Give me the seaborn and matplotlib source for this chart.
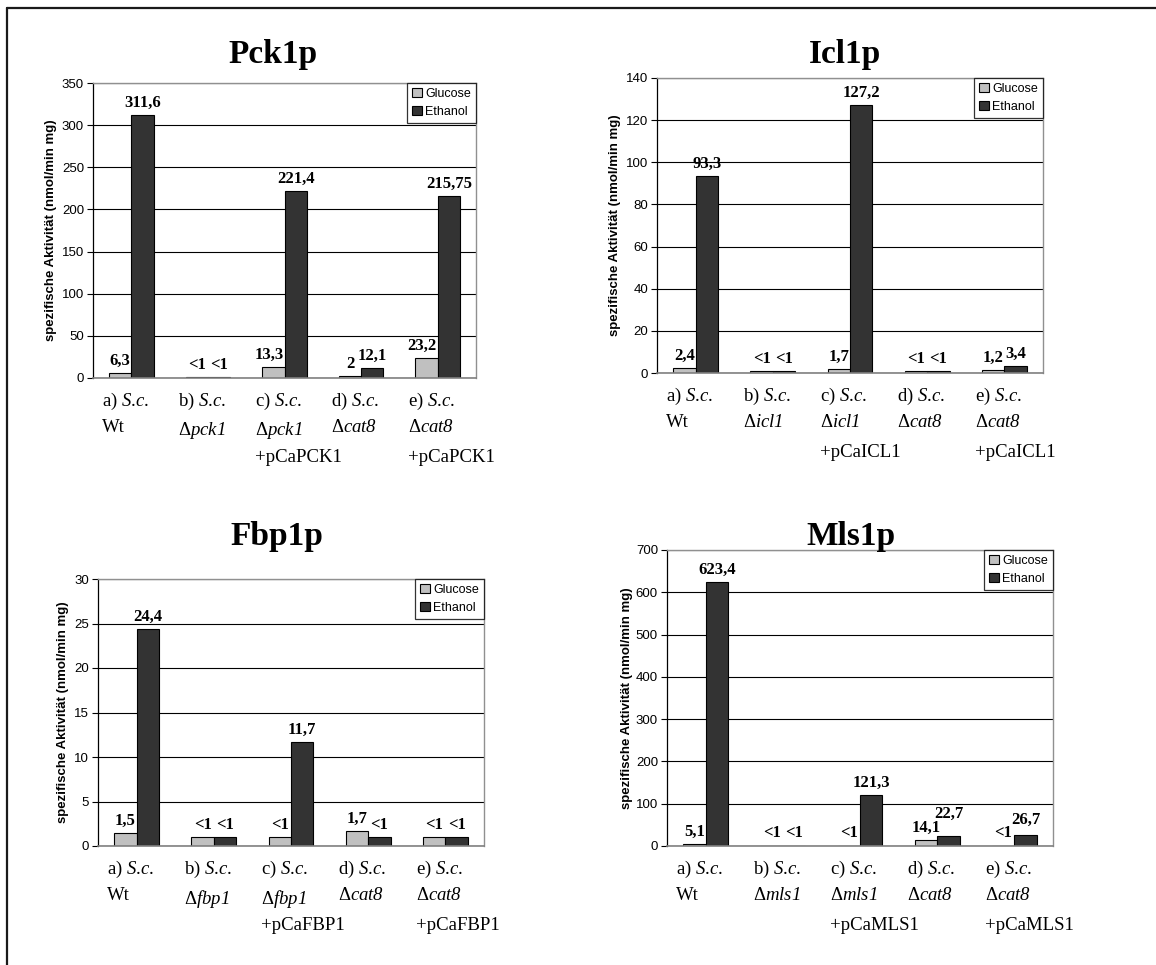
import matplotlib
matplotlib.use("Agg")
import matplotlib.pyplot as plt
import matplotlib.transforms as mtransforms
import seaborn as sns
import pandas as pd
from matplotlib.patches import Patch
from matplotlib.lines import Line2D

sns.set_theme(style="white")
plt.rcParams['font.family'] = ['Liberation Sans', 'DejaVu Sans']
plt.rcParams['mathtext.fontset'] = 'custom'
plt.rcParams['mathtext.rm'] = 'Liberation Serif:italic'
plt.rcParams['mathtext.it'] = 'Liberation Serif:italic'
for key in ["text.color", "axes.labelcolor", "xtick.color", "ytick.color"]:
    plt.rcParams[key] = "black"

# ---------------- data ----------------
media = ["Glucose", "Ethanol"]

pck_strains = ["a) $S$.$c$.\nWt",
               "b) $S$.$c$.\nΔ$pck1$",
               "c) $S$.$c$.\nΔ$pck1$\n+pCaPCK1",
               "d) $S$.$c$.\nΔ$cat8$",
               "e) $S$.$c$.\nΔ$cat8$\n+pCaPCK1"]
pck_glucose = [6.3, 1, 13.3, 2, 23.2]
pck_ethanol = [311.6, 1, 221.4, 12.1, 215.75]
pck_glucose_lbl = ["6,3", "<1", "13,3", "2", "23,2"]
pck_ethanol_lbl = ["311,6", "<1", "221,4", "12,1", "215,75"]

icl_strains = ["a) $S$.$c$.\nWt",
               "b) $S$.$c$.\nΔ$icl1$",
               "c) $S$.$c$.\nΔ$icl1$\n+pCaICL1",
               "d) $S$.$c$.\nΔ$cat8$",
               "e) $S$.$c$.\nΔ$cat8$\n+pCaICL1"]
icl_glucose = [2.4, 1, 1.7, 1, 1.2]
icl_ethanol = [93.3, 1, 127.2, 1, 3.4]
icl_glucose_lbl = ["2,4", "<1", "1,7", "<1", "1,2"]
icl_ethanol_lbl = ["93,3", "<1", "127,2", "<1", "3,4"]

fbp_strains = ["a) $S$.$c$.\nWt",
               "b) $S$.$c$.\nΔ$fbp1$",
               "c) $S$.$c$.\nΔ$fbp1$\n+pCaFBP1",
               "d) $S$.$c$.\nΔ$cat8$",
               "e) $S$.$c$.\nΔ$cat8$\n+pCaFBP1"]
fbp_glucose = [1.5, 1, 1, 1.7, 1]
fbp_ethanol = [24.4, 1, 11.7, 1, 1]
fbp_glucose_lbl = ["1,5", "<1", "<1", "1,7", "<1"]
fbp_ethanol_lbl = ["24,4", "<1", "11,7", "<1", "<1"]

mls_strains = ["a) $S$.$c$.\nWt",
               "b) $S$.$c$.\nΔ$mls1$",
               "c) $S$.$c$.\nΔ$mls1$\n+pCaMLS1",
               "d) $S$.$c$.\nΔ$cat8$",
               "e) $S$.$c$.\nΔ$cat8$\n+pCaMLS1"]
mls_glucose = [5.1, 1, 1, 14.1, 1]
mls_ethanol = [623.4, 1, 121.3, 22.7, 26.7]
mls_glucose_lbl = ["5,1", "<1", "<1", "14,1", "<1"]
mls_ethanol_lbl = ["623,4", "<1", "121,3", "22,7", "26,7"]

titles = ["Pck1p", "Icl1p", "Fbp1p", "Mls1p"]
ylims = [(0, 350, 50), (0, 140, 20), (0, 30, 5), (0, 700, 100)]
ylabel = "spezifische Aktivität (nmol/min mg)"

# ---------------- layout ----------------
W, H = 1156, 965
DPI = 100
fig = plt.figure(figsize=(W / DPI, H / DPI), dpi=DPI)
fig.patch.set_facecolor("white")

# pixel boxes: left, right, top, bottom
boxes = [(93, 476, 83, 378), (657, 1043, 78, 373), (98, 484, 579, 846), (667, 1053, 550, 846)]
title_pos = [(273, 55), (845, 55), (277, 537), (851, 537)]
ylabel_off = [36, 36, 29, 34]

panels = [
    (pck_strains, pck_glucose, pck_ethanol, pck_glucose_lbl, pck_ethanol_lbl),
    (icl_strains, icl_glucose, icl_ethanol, icl_glucose_lbl, icl_ethanol_lbl),
    (fbp_strains, fbp_glucose, fbp_ethanol, fbp_glucose_lbl, fbp_ethanol_lbl),
    (mls_strains, mls_glucose, mls_ethanol, mls_glucose_lbl, mls_ethanol_lbl),
]

colors = ["#c0c0c0", "#333333"]
LS = 1.55
xlab_font = dict(fontfamily="Liberation Serif", fontsize=13.5)
MAJOR_PAD = 9  # points

renderer = fig.canvas.get_renderer()
# line advance of the category labels (pixels), measured on a real two-line label
_l1 = pck_strains[2].split("\n")
_t1 = fig.text(0, 0, _l1[0], linespacing=LS, **xlab_font)
_t2 = fig.text(0, 0, "\n".join(_l1[:2]), linespacing=LS, **xlab_font)
line_adv = _t2.get_window_extent(renderer).height - _t1.get_window_extent(renderer).height
_t1.remove(); _t2.remove()
MINOR_PAD = MAJOR_PAD + 2 * line_adv * 72 / DPI

all_anns = []

for i, (strains, glu, eth, glbl, elbl) in enumerate(panels):
    l, r, t, b = boxes[i]
    ax = fig.add_axes([l / W, 1 - b / H, (r - l) / W, (b - t) / H])
    df = pd.DataFrame({
        "strain": strains * 2,
        "medium": [media[0]] * len(strains) + [media[1]] * len(strains),
        "value": glu + eth,
    })
    sns.barplot(data=df, x="strain", y="value", hue="medium", order=strains,
                hue_order=media, palette=colors, width=0.58, edgecolor="black",
                linewidth=0.8, saturation=1, ax=ax, legend=False, errorbar=None)
    ax.set_axisbelow(True)
    y0, y1, step = ylims[i]
    ax.set_ylim(y0, y1)
    ax.set_yticks(list(range(y0, y1 + 1, step)))
    ax.set_xlim(-0.5, len(strains) - 0.5)
    ax.yaxis.grid(True, color="black", linewidth=0.8)
    ax.xaxis.grid(False)
    ax.set_facecolor("white")
    for side in ["top", "right"]:
        ax.spines[side].set_color("#909090")
        ax.spines[side].set_linewidth(1.0)
    ax.spines["left"].set_color("black")
    ax.spines["left"].set_linewidth(0.9)
    ax.spines["bottom"].set_color("#808080")
    ax.spines["bottom"].set_linewidth(1.2)
    ax.tick_params(axis="y", direction="out", length=4, width=0.8, color="black",
                   pad=2.5, labelsize=9.5, left=True)
    for lab in ax.get_yticklabels():
        lab.set_fontfamily("Liberation Sans")

    # category labels: first two lines as major tick labels, third line as minor tick labels
    lines = [s.split("\n") for s in strains]
    major_txt = ["\n".join(ln[:2]) for ln in lines]
    minor_txt = [ln[2] if len(ln) > 2 else "" for ln in lines]
    ax.xaxis.remove_overlapping_locs = False
    ax.set_xticks(range(len(strains)))
    ax.set_xticklabels(major_txt, ha="left", va="top", multialignment="left",
                       linespacing=LS, **xlab_font)
    ax.set_xticks(range(len(strains)), minor=True)
    ax.set_xticklabels(minor_txt, minor=True, ha="left", va="top", **xlab_font)
    ax.tick_params(axis="x", which="major", length=0, pad=MAJOR_PAD)
    ax.tick_params(axis="x", which="minor", length=0, pad=MINOR_PAD)
    # centre the first line of each label on its category, other lines left-aligned to it
    offs = []
    for ln in lines:
        tmp = fig.text(0, 0, ln[0], **xlab_font)
        w = tmp.get_window_extent(renderer).width
        tmp.remove()
        offs.append(mtransforms.ScaledTranslation(-(w / 2 + 6) / DPI, 0, fig.dpi_scale_trans))
    for lab, off in zip(ax.get_xticklabels(), offs):
        lab.set_transform(lab.get_transform() + off)
    for lab, off in zip(ax.get_xticklabels(minor=True), offs):
        lab.set_transform(lab.get_transform() + off)

    ax.set_xlabel("")
    ax.set_ylabel(ylabel, fontfamily="Liberation Sans", fontweight="bold", fontsize=9.5)
    ax.yaxis.set_label_coords(-ylabel_off[i] / (r - l), 0.5)

    anns = []
    for cont, lbls in zip(ax.containers, [glbl, elbl]):
        anns.append(ax.bar_label(cont, labels=lbls, padding=3, fontfamily="Liberation Serif",
                                 fontweight="bold", fontsize=12, color="black"))
    all_anns.append((ax, anns))

    handles = [Patch(facecolor=colors[k], edgecolor="black", linewidth=0.8, label=media[k])
               for k in range(2)]
    leg = ax.legend(handles=handles, loc="upper right", borderaxespad=0, frameon=True,
                    fancybox=False, edgecolor="black", handlelength=0.75,
                    handleheight=0.75, handletextpad=0.3, labelspacing=0.45,
                    borderpad=0.4, prop={"family": "Liberation Sans", "size": 9})
    leg.get_frame().set_linewidth(0.9)

    tx, ty = title_pos[i]
    fig.text(tx / W, 1 - ty / H, titles[i], ha="center", va="center",
             fontfamily="Liberation Serif", fontweight="bold", fontsize=24, color="black")

# keep value labels clear of the neighbouring bar and of each other
px2pt = 72 / DPI
fig.canvas.draw()
for ax, (ganns, eanns) in all_anns:
    ebars = ax.containers[1].patches
    for k in range(len(ganns)):
        ga = ganns[k]
        gb = ga.get_window_extent(renderer)
        ebar = ebars[k].get_window_extent(renderer)
        if ebar.y1 > gb.y0 and gb.x1 > ebar.x0 + 1:
            shift = (gb.x1 - ebar.x0 + 1) * px2pt
            ga.xyann = (ga.xyann[0] - shift, ga.xyann[1])
fig.canvas.draw()
for ax, (ganns, eanns) in all_anns:
    for k in range(len(ganns)):
        ga, ea = ganns[k], eanns[k]
        gb = ga.get_window_extent(renderer)
        eb = ea.get_window_extent(renderer)
        if gb.x1 > eb.x0 - 1 and gb.x0 < eb.x1 and gb.y1 > eb.y0 and gb.y0 < eb.y1:
            lift = (gb.y1 - eb.y0 - 2) * px2pt
            ea.xyann = (ea.xyann[0], ea.xyann[1] + lift)

# outer frame (top and left edges)
fig.add_artist(Line2D([7 / W, 1], [1 - 7.5 / H, 1 - 7.5 / H], transform=fig.transFigure,
                      color="#1a1a1a", linewidth=1.6))
fig.add_artist(Line2D([7 / W, 7 / W], [0, 1 - 7.5 / H], transform=fig.transFigure,
                      color="#1a1a1a", linewidth=1.6))

fig.savefig("out.png", dpi=DPI, facecolor="white")
